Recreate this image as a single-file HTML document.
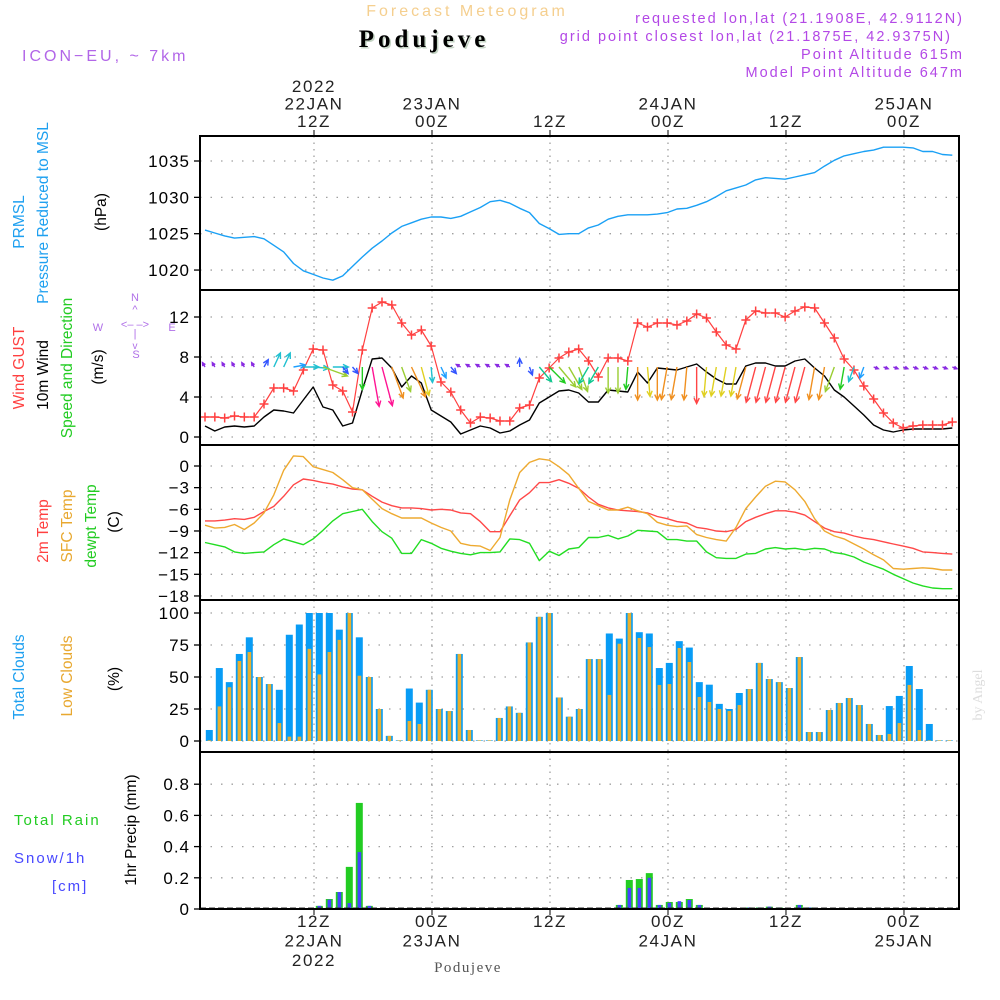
<!DOCTYPE html>
<html><head><meta charset="utf-8"><style>
html,body{margin:0;padding:0;background:#fff;}
svg{display:block;}
text{font-family:"Liberation Sans",sans-serif;}
.serif{font-family:"Liberation Serif",serif;}
</style></head><body>
<svg id="chart" width="1000" height="1000" viewBox="0 0 1000 1000" xmlns="http://www.w3.org/2000/svg">
<rect width="1000" height="1000" fill="#fff"/>
<text x="467" y="16" text-anchor="middle" font-size="16" letter-spacing="3" fill="#f5cf8f">Forecast Meteogram</text>
<text class="serif" x="425.5" y="48.5" text-anchor="middle" font-weight="bold" font-size="25" letter-spacing="4" fill="#c4d4c4">Podujeve</text>
<text class="serif" x="424" y="47" text-anchor="middle" font-weight="bold" font-size="25" letter-spacing="4" fill="#000">Podujeve</text>
<text x="22" y="61" font-size="16" letter-spacing="3" fill="#b266e8">ICON−EU, ~ 7km</text>
<g fill="#b348e6" font-size="14.5" letter-spacing="2" text-anchor="end">
<text x="964" y="23">requested lon,lat (21.1908E, 42.9112N)</text>
<text x="952" y="41">grid point closest lon,lat (21.1875E, 42.9375N)</text>
<text x="964" y="59">Point Altitude 615m</text>
<text x="964" y="77">Model Point Altitude 647m</text>
</g>
<g id="grid"></g>
<g id="marks"></g>
<g id="frames"></g>
<g id="labels"></g>
</svg>
<script>
// ---------------- DATA ----------------
const pressure = [1025.5,1025.1,1024.7,1024.4,1024.5,1024.6,1024.3,1023.4,1022.5,1020.9,1019.9,1019.4,1018.9,1018.6,1019.2,1020.5,1021.8,1023.0,1024.0,1025.1,1026.0,1026.5,1027.0,1027.3,1027.3,1027.1,1027.4,1028.0,1028.6,1029.4,1029.6,1029.2,1028.5,1027.9,1026.4,1025.7,1024.9,1025.0,1025.0,1025.8,1026.2,1027.0,1027.4,1027.6,1027.6,1027.6,1027.7,1027.9,1028.4,1028.5,1028.9,1029.4,1030.1,1030.9,1031.3,1031.7,1032.4,1032.7,1032.6,1032.5,1032.8,1033.1,1033.4,1034.3,1035.1,1035.7,1036.0,1036.3,1036.5,1036.9,1036.9,1036.9,1036.8,1036.3,1036.3,1035.9,1035.8];
const gust = [2.0,2.0,1.9,2.1,2.0,2.0,3.3,4.9,4.9,4.6,6.7,8.8,8.7,5.2,4.6,2.5,8.7,12.9,13.5,13.2,11.4,10.2,10.7,9.1,5.5,4.5,2.7,1.4,2.0,1.9,1.6,1.6,2.9,3.2,5.9,6.9,7.9,8.5,8.8,7.6,6.0,7.9,7.9,7.6,11.4,11.0,11.4,11.4,11.2,11.6,12.3,11.9,10.5,9.2,8.8,11.7,12.6,12.4,12.4,12.0,12.6,13.0,12.9,11.4,9.9,7.8,6.7,5.1,3.8,2.4,1.4,0.9,1.1,1.2,1.2,1.2,1.5];
const wind10m = [1.1,0.6,1.0,1.1,1.0,1.1,2.0,2.7,2.6,2.4,3.7,5.0,3.0,2.7,1.1,1.4,4.7,7.8,7.9,6.9,5.0,6.1,5.4,2.7,2.1,1.5,0.3,0.7,1.1,0.9,0.4,0.6,1.2,1.7,3.4,4.0,4.6,4.7,4.4,3.5,3.5,4.7,4.6,4.5,6.5,5.4,6.9,6.8,6.7,7.0,7.3,6.5,5.8,5.3,5.3,7.1,7.4,7.4,7.1,7.1,7.6,7.8,6.9,6.1,4.7,4.0,3.1,2.2,1.2,0.7,0.5,0.7,0.8,0.8,0.8,0.8,0.9];
const arrowDir = [330,330,330,330,330,330,30,25,25,80,90,95,110,90,140,140,180,170,165,160,160,155,165,175,155,140,300,300,300,300,300,300,0,160,140,135,140,150,160,210,210,180,180,185,180,175,180,190,190,185,180,185,190,190,190,195,195,195,195,195,195,195,190,190,200,190,200,200,110,110,110,110,110,110,110,110,110];
const arrowSpeed = [0,0,0,0,0,0,1,3,3,2,3,3,6,3,1,1,5,10,10,8,6,8,7,3,2,1,0,0,0,0,0,0,1,1,4,5,6,6,6,4,4,6,6,5,8,7,8,8,8,8,9,7,7,7,7,8,9,9,9,9,9,9,8,8,6,5,3,2,0,0,0,0,0,0,0,0,0];
const temp2m = [-7.6,-7.6,-7.5,-7.3,-7.4,-7.1,-6.3,-5.6,-4.2,-2.6,-1.8,-2.0,-2.3,-2.5,-2.9,-3.2,-3.3,-4.2,-5.0,-5.5,-5.8,-5.8,-5.9,-6.1,-6.0,-6.1,-6.5,-6.6,-7.7,-9.1,-9.1,-6.9,-4.7,-3.7,-2.3,-2.3,-1.9,-2.4,-3.1,-4.3,-5.3,-5.8,-6.1,-6.2,-6.3,-6.5,-7.0,-7.3,-7.7,-7.9,-8.5,-8.7,-9.0,-9.1,-8.8,-7.7,-7.1,-6.6,-6.2,-6.2,-6.4,-6.8,-7.7,-8.6,-9.1,-9.3,-9.7,-10.0,-10.2,-10.5,-10.8,-11.1,-11.4,-11.9,-12.0,-12.1,-12.2];
const tempSfc = [-8.2,-8.6,-8.5,-8.1,-8.8,-7.9,-6.5,-4.0,-0.6,1.4,1.3,-0.1,-0.5,-0.9,-1.9,-3.0,-3.3,-4.6,-5.9,-6.6,-7.2,-7.2,-7.2,-7.9,-8.5,-9.0,-10.7,-11.0,-11.1,-11.7,-9.9,-4.7,-0.9,0.5,1.0,0.8,-0.1,-1.2,-3.1,-4.9,-5.5,-6.1,-6.1,-5.7,-6.2,-6.6,-7.8,-8.2,-8.4,-8.3,-9.5,-9.9,-10.2,-10.4,-8.5,-5.9,-4.3,-2.8,-2.1,-2.2,-3.3,-4.9,-7.3,-9.0,-9.7,-10.1,-10.8,-11.5,-12.3,-13.0,-14.2,-14.3,-14.2,-14.1,-14.2,-14.4,-14.4];
const tempDew = [-10.6,-10.9,-11.2,-11.9,-12.1,-12.0,-11.9,-10.9,-10.1,-10.5,-10.9,-10.1,-8.9,-7.6,-6.6,-6.3,-6.0,-7.7,-9.1,-10.0,-12.1,-12.1,-10.2,-10.7,-11.4,-11.8,-12.1,-12.3,-12.0,-12.0,-11.9,-10.1,-10.2,-10.7,-13.1,-11.8,-12.4,-11.5,-11.3,-9.9,-9.9,-9.6,-10.1,-9.7,-8.9,-9.0,-9.1,-10.2,-10.2,-10.4,-10.4,-11.9,-12.7,-12.8,-12.8,-12.2,-12.1,-11.5,-11.3,-11.5,-11.4,-11.6,-11.4,-11.5,-12.0,-12.2,-12.6,-13.3,-13.8,-14.3,-15.0,-15.6,-16.2,-16.6,-16.9,-17.0,-17.0];
const totalClouds = [8.6,57,46,68,81,50,44.5,40,83,91,100,100,100,87,100,81,50,25,4,0.5,41,30,40,25,23.4,68,8.6,0.5,0.5,18,27,22,77,97,100,34,19,25,64,64,84,80,100,85,84,57,61,78,73,46,44,29,25,37.5,40.6,61,48.4,46,41.4,65.6,7,7,24.2,29.7,33.6,28.1,13.3,4.7,27.3,35.2,58.6,40.6,13.3,0.5,0.5];
const lowClouds = [0.5,27,42,62.5,69.5,50,44.5,14,3.4,3.4,72,52,69.5,79,100,51,50,25,4,0.5,15.6,13.3,40,25,23.4,68,8.6,0.5,0.5,18,27,22,77,97,100,34,19,25,64,64,36,76,100,80.5,73.4,43.8,44.5,72.7,61.7,34.4,30.5,25,23.4,28.1,40.6,61,48.4,46,41.4,65.6,7,7,24.2,29.7,33.6,28.1,13.3,4.7,5.5,14,43.8,8.6,0.5,0.5,0.5];
const totalRain = [0,0,0,0,0,0,0,0,0,0,0,0.02,0.064,0.109,0.27,0.68,0.02,0,0,0,0,0,0,0,0,0,0,0,0,0,0,0,0,0,0,0,0,0,0,0,0,0.026,0.186,0.192,0.23,0.026,0.045,0.045,0.064,0.026,0,0.005,0.005,0.005,0.01,0.01,0.015,0.01,0,0.026,0.01,0,0,0,0,0,0,0,0,0,0,0,0,0,0];
const snow = [0,0,0,0,0,0,0,0,0,0,0,0.02,0.06,0.109,0.038,0.365,0.02,0,0,0,0,0,0,0,0,0,0,0,0,0,0,0,0,0,0,0,0,0,0,0,0,0.026,0.135,0.135,0.2,0.026,0.04,0.05,0.058,0.026,0,0.005,0.005,0.005,0.01,0.01,0.015,0.01,0,0.026,0.01,0,0,0,0,0,0,0,0,0,0,0,0,0,0];
const pressureTicks = [1020,1025,1030,1035];
const windTicks = [0,4,8,12];
const tempTicks = [0,-3,-6,-9,-12,-15,-18];
const cloudTicks = [0,25,50,75,100];
const precipTicks = [0,0.2,0.4,0.6,0.8];
const precipTickLabels = ["0","0.2","0.4","0.6","0.8"];
const timeTickHours = [12,24,36,48,60,72];
const topTimeLabels = [["2022","22JAN","12Z"],["23JAN","00Z"],["12Z"],["24JAN","00Z"],["12Z"],["25JAN","00Z"]];
const bottomTimeLabels = [["12Z","22JAN","2022"],["00Z","23JAN"],["12Z"],["00Z","24JAN"],["12Z"],["00Z","25JAN"]];

// ---------------- SCALES ----------------
const NS='http://www.w3.org/2000/svg';
const X0=200, X1=959;
const xHour = h => 314 + (h-12)*9.833;
const xLine = i => xHour(i + 0.915);
const xBar = k => 209.3 + 10*k;
const yP = v => 161 + (1035 - v)*7.27;
const yW = v => 437 - v*10;
const yT = v => 466 - v*7.22;
const yC = v => 741 - v*1.28;
const yR = v => 909 - v*156;
const panels = [{t:136,b:290},{t:290,b:445},{t:445,b:600},{t:600,b:752},{t:752,b:909}];

function el(tag, attrs, parent){const e=document.createElementNS(NS,tag);for(const k in attrs)e.setAttribute(k,attrs[k]);parent.appendChild(e);return e;}
const G=document.getElementById('grid'), M=document.getElementById('marks'), F=document.getElementById('frames'), L=document.getElementById('labels');

function hgrid(ticks, yf, labels, name){
  ticks.forEach((t,j)=>{
    const y=yf(t);
    const g=el('line',{x1:X0,x2:X1,y1:y,y2:y,stroke:'#a0a0a0','stroke-width':1.3,'stroke-dasharray':'1.5 9'},G);
    
    
    const tk=el('line',{x1:194,x2:X0,y1:y,y2:y,stroke:'#000','stroke-width':1.3},F);
    
    
    const tx=el('text',{x:190,y:y+6,'text-anchor':'end','font-size':17,'letter-spacing':1,fill:'#000'},L);
    tx.textContent = labels ? labels[j] : String(t).replace('-','−');
    
    
  });
}
hgrid(pressureTicks,yP,null,'pressure-axis');
hgrid(windTicks,yW,null,'wind-axis');
hgrid(tempTicks,yT,null,'temp-axis');
hgrid(cloudTicks,yC,null,'cloud-axis');
hgrid(precipTicks,yR,precipTickLabels,'precip-axis');
timeTickHours.forEach(h=>{
  const x=xHour(h);
  panels.forEach(p=>{
    const v=el('line',{x1:x,x2:x,y1:p.t,y2:p.b,stroke:'#a0a0a0','stroke-width':1.3,'stroke-dasharray':'1.5 5'},G);
    
    
  });
  const t1=el('line',{x1:x,x2:x,y1:130,y2:136,stroke:'#000','stroke-width':1},F);
  
  
  const t2=el('line',{x1:x,x2:x,y1:909,y2:915,stroke:'#000','stroke-width':1},F);
  
  
});
topTimeLabels.forEach((arr,j)=>{
  const x=xHour(timeTickHours[j]);
  arr.forEach((s,n)=>{
    const y=127-(arr.length-1-n)*17.5;
    const t=el('text',{x:x,y:y,'text-anchor':'middle','font-size':17,'letter-spacing':1.6,fill:'#222'},L);
    t.textContent=s;
    
    
  });
});
bottomTimeLabels.forEach((arr,j)=>{
  const x=xHour(timeTickHours[j]);
  arr.forEach((s,n)=>{
    const t=el('text',{x:x,y:927+n*19.5,'text-anchor':'middle','font-size':17,'letter-spacing':1.6,fill:'#222'},L);
    t.textContent=s;
    
    
  });
});

function polyline(vals, xf, yf, color, name, w){
  const pts=vals.map((v,i)=>xf(i).toFixed(1)+','+yf(v).toFixed(1)).join(' ');
  const p=el('polyline',{points:pts,fill:'none',stroke:color,'stroke-width':w||1.4,'stroke-linejoin':'round'},M);
  
  
}
polyline(pressure,xLine,yP,'#1aa0f5','pressure-line');
polyline(wind10m,xLine,yW,'#000','wind-10m-line');
polyline(gust,xLine,yW,'#ff4040','wind-gust-line',1.2);
gust.forEach((v,i)=>{
  const x=xLine(i), y=yW(v);
  const g=el('path',{d:`M${x-4.5},${y}H${x+4.5}M${x},${y-4.5}V${y+4.5}`,stroke:'#ff4040','stroke-width':1.5},M);
  
  
});
const arrowColors=['#8a2be2','#3355ff','#1e9fff','#20c0d0','#10c890','#22cc22','#9acd32','#e0d020','#f09020','#ff4545','#ff1493'];
arrowDir.forEach((d,i)=>{
  const s=arrowSpeed[i];
  const len=5+s*3.5;
  const a=d*Math.PI/180;
  const x0=xLine(i), y0=367;
  const x1=x0+Math.sin(a)*len, y1=y0-Math.cos(a)*len;
  const hl=Math.min(6,len*0.7);
  const h1=a+Math.PI-0.45, h2=a+Math.PI+0.45;
  const dpath=`M${x0},${y0}L${x1},${y1}M${x1+Math.sin(h1)*hl},${y1-Math.cos(h1)*hl}L${x1},${y1}L${x1+Math.sin(h2)*hl},${y1-Math.cos(h2)*hl}`;
  const p=el('path',{d:dpath,fill:'none',stroke:arrowColors[s],'stroke-width':1.4},M);
  
  
});
polyline(temp2m,xLine,yT,'#ff4848','temp-2m-line');
polyline(tempSfc,xLine,yT,'#eeaa30','temp-sfc-line');
polyline(tempDew,xLine,yT,'#22dd22','dewpoint-line');

totalClouds.forEach((v,k)=>{
  const x=xBar(k);
  const b=el('rect',{x:x-3.5,y:yC(v),width:7,height:741-yC(v),fill:'#089cf5'},M);
  
  
  const lv=lowClouds[k];
  const o=el('rect',{x:x-1.7,y:yC(lv),width:3.6,height:741-yC(lv),fill:'#e8b030'},M);
  
  
});
totalRain.forEach((v,k)=>{
  const x=xBar(k);
  const b=el('rect',{x:x-3.5,y:yR(v),width:7,height:909-yR(v),fill:'#22cc22'},M);
  
  
  const sv=snow[k];
  const o=el('rect',{x:x-1.7,y:yR(sv),width:3.6,height:909-yR(sv),fill:'#4444ff'},M);
  
  
});
const base=el('line',{x1:X0,x2:X1,y1:908,y2:908,stroke:'#333','stroke-width':1,'stroke-dasharray':'6 3'},M);



panels.forEach((p,j)=>{
  const r=el('rect',{x:X0,y:p.t,width:X1-X0,height:p.b-p.t,fill:'none',stroke:'#000','stroke-width':2},F);
  
  
});
</script>
<script>
const LB=document.getElementById('labels');
function vt(x,y,txt,color,name,size){
  const t=document.createElementNS('http://www.w3.org/2000/svg','text');
  t.setAttribute('x',x);t.setAttribute('y',y);
  t.setAttribute('transform',`rotate(-90 ${x} ${y})`);
  t.setAttribute('text-anchor','middle');t.setAttribute('font-size',size||15.5);
  t.setAttribute('fill',color);t.textContent=txt;
  
  
  LB.appendChild(t);
}
vt(24,222,'PRMSL','#1ea0f0','prmsl-label');
vt(48,213,'Pressure Reduced to MSL','#1ea0f0','pressure-label');
vt(106,212,'(hPa)','#000','hpa-unit');
vt(24,368,'Wind GUST','#ff4040','gust-label');
vt(48,375,'10m Wind','#000','wind10-label');
vt(72,368,'Speed and Direction','#22cc22','speed-direction-label');
vt(103,367,'(m/s)','#000','ms-unit');
vt(48,531,'2m Temp','#ff4040','temp2m-label');
vt(72,526,'SFC Temp','#e8a830','sfc-temp-label');
vt(96,526,'dewpt Temp','#22cc22','dewpt-label');
vt(119,522,'(C)','#000','celsius-unit');
vt(24,677,'Total Clouds','#1ea0f0','total-clouds-label');
vt(72,676,'Low Clouds','#e8a830','low-clouds-label');
vt(119,679,'(%)','#000','percent-unit');
vt(136,830,'1hr Precip (mm)','#000','precip-label');
function ht(x,y,txt,color,name,size,ls,anchor,fam){
  const t=document.createElementNS('http://www.w3.org/2000/svg','text');
  t.setAttribute('x',x);t.setAttribute('y',y);t.setAttribute('font-size',size);
  t.setAttribute('letter-spacing',ls);t.setAttribute('fill',color);
  if(anchor)t.setAttribute('text-anchor',anchor);
  if(fam)t.setAttribute('style','font-family:'+fam);
  t.textContent=txt;
  
  
  LB.appendChild(t);
}
ht(14,825,'Total   Rain','#22cc22','rain-legend',15,2);
ht(14,863,'Snow/1h','#4848ff','snow-legend',15,2);
ht(52,891,'[cm]','#4848ff','snow-unit',15,2);
ht(468,972,'Podujeve','#555','footer-location',15,1.5,'middle',"'Liberation Serif',serif");
ht(135,301,'N','#b070e8','compass-n',11,0,'middle');
ht(136,358,'S','#b070e8','compass-s',11,0,'middle');
ht(98,331,'W','#b070e8','compass-w',11,0,'middle');
ht(172,331,'E','#b070e8','compass-e',11,0,'middle');
ht(135,328,'<–  –>','#b070e8','compass-arrows',11,0,'middle');
ht(135,313,'^','#b070e8','compass-up',11,0,'middle');
ht(135,349,'v','#b070e8','compass-down',10,0,'middle');
ht(135,337,'|','#b070e8','compass-stem',11,0,'middle');
const w=document.createElementNS('http://www.w3.org/2000/svg','text');
w.setAttribute('x',982);w.setAttribute('y',695);w.setAttribute('transform','rotate(-90 982 695)');
w.setAttribute('text-anchor','middle');w.setAttribute('font-size',14);w.setAttribute('fill','#ddd');
w.setAttribute('style',"font-family:'Liberation Serif',serif");w.textContent='by Angel';


LB.appendChild(w);
</script>
</body></html>
